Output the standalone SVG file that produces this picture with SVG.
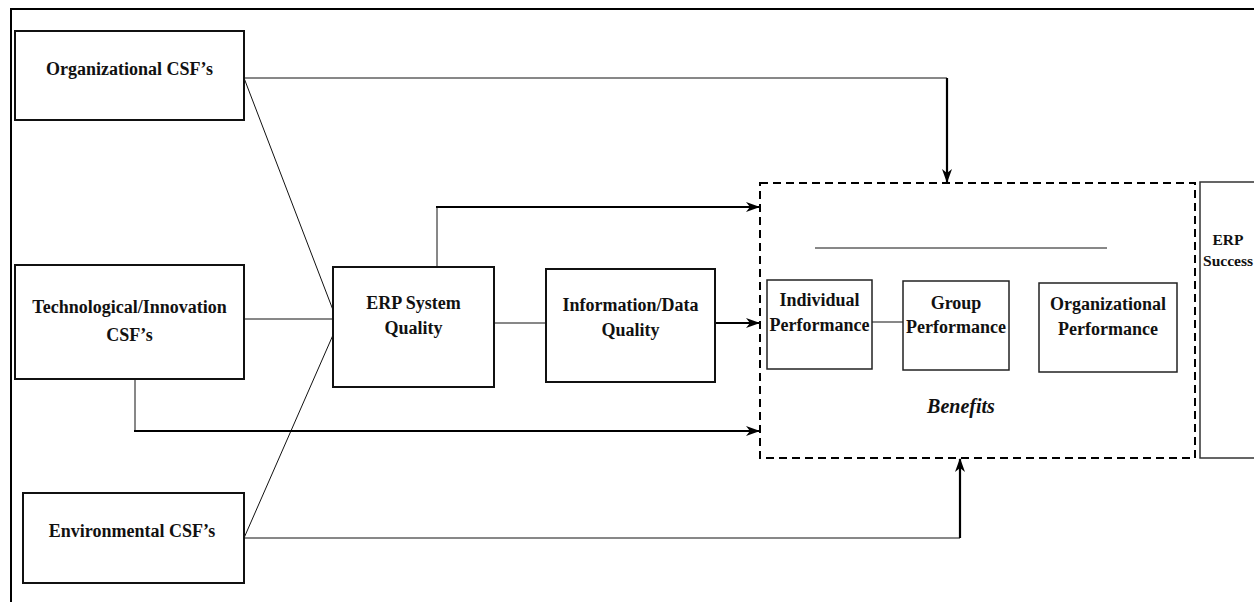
<svg xmlns="http://www.w3.org/2000/svg" width="1254" height="602" viewBox="0 0 1254 602" font-family="'Liberation Serif', 'DejaVu Serif', serif">
<style>
.bx{fill:#fff;stroke:#111;stroke-width:2}
.ib{fill:#fff;stroke:#222;stroke-width:1.5}
text{font-family:'Liberation Serif','DejaVu Serif',serif;font-weight:bold;font-size:18px;fill:#111;text-anchor:middle}
.s{font-size:15.5px}
.it{font-style:italic;font-size:20px}
.ln{fill:none;stroke:#111;stroke-width:1}
.ar{fill:none;stroke:#000;stroke-width:2.2;marker-end:url(#ah)}
</style>
<defs>
<marker id="ah" viewBox="0 0 14 10" refX="13" refY="5" markerWidth="14" markerHeight="10" markerUnits="userSpaceOnUse" orient="auto">
<path d="M0,0 L14,5 L0,10 L4,5 z" fill="#000"/>
</marker>
</defs>
<rect width="1254" height="602" fill="#fff"/>
<path d="M11,602 V9 H1254" fill="none" stroke="#000" stroke-width="2"/>

<g id="connectors">
<path class="ln" d="M244,78 H947"/>
<path class="ar" d="M947,78 V182"/>
<path class="ln" d="M244,78 L333,310"/>
<path class="ln" d="M244,319 H333"/>
<path class="ln" d="M244,538 L333,335"/>
<path class="ln" d="M244,538 H960"/>
<path class="ar" d="M960,538 V459"/>
<path class="ln" d="M135,379 V431"/>
<path class="ar" d="M134,431 H759"/>
<path class="ln" d="M437,267 V207"/>
<path class="ar" d="M436,207 H759"/>
<path class="ln" d="M494,323 H546"/>
<path class="ar" d="M715,323 H759"/>
<path class="ln" d="M872,322 H903"/>
<path class="ln" d="M815,248 H1107" stroke="#333"/>
</g>

<g id="org-csf">
<rect class="bx" x="15" y="31" width="229" height="89"/>
<text x="129.5" y="75">Organizational CSF’s</text>
</g>
<g id="tech-csf">
<rect class="bx" x="15" y="265" width="229" height="114"/>
<text x="129.5" y="313">Technological/Innovation</text>
<text x="129.5" y="341">CSF’s</text>
</g>
<g id="env-csf">
<rect class="bx" x="23" y="493" width="221" height="90"/>
<text x="132" y="537">Environmental CSF’s</text>
</g>
<g id="erp-quality">
<rect class="bx" x="333" y="267" width="161" height="120"/>
<text x="413.5" y="309">ERP System</text>
<text x="413.5" y="334">Quality</text>
</g>
<g id="info-quality">
<rect class="bx" x="546" y="269" width="169" height="113"/>
<text x="630.5" y="311">Information/Data</text>
<text x="630.5" y="336">Quality</text>
</g>
<g id="benefits">
<rect x="760" y="183" width="435" height="275" fill="none" stroke="#000" stroke-width="2" stroke-dasharray="8,5"/>
<text class="it" x="961" y="413">Benefits</text>
</g>
<g id="individual">
<rect class="ib" x="767" y="280" width="105" height="89"/>
<text x="819.5" y="306">Individual</text>
<text x="819.5" y="331">Performance</text>
</g>
<g id="group">
<rect class="ib" x="903" y="281" width="106" height="89"/>
<text x="956" y="309">Group</text>
<text x="956" y="333">Performance</text>
</g>
<g id="org-perf">
<rect class="ib" x="1039" y="283" width="138" height="89"/>
<text x="1108" y="310">Organizational</text>
<text x="1108" y="335">Performance</text>
</g>
<g id="erp-success">
<rect x="1200" y="182" width="70" height="276" fill="#fff" stroke="#333" stroke-width="1.5"/>
<text class="s" x="1228" y="245">ERP</text>
<text class="s" x="1228" y="266">Success</text>
</g>
</svg>
